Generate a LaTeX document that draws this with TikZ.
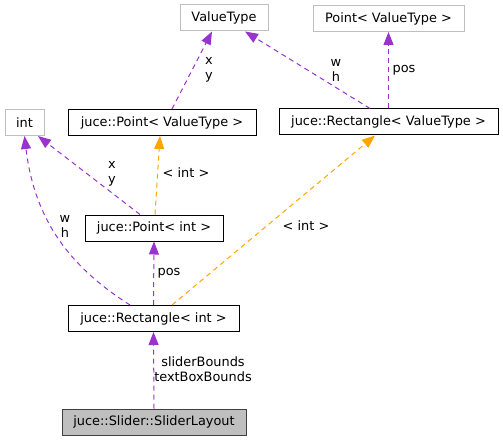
\documentclass[tikz,border=0pt]{standalone}
\usepackage{fontspec}
\setmainfont{DejaVu Sans}
\usetikzlibrary{arrows.meta}
\definecolor{edgepurple}{HTML}{9A32CD}
\definecolor{edgeorange}{HTML}{FFA500}
\definecolor{boxgray}{HTML}{BFBFBF}
\begin{document}
\begin{tikzpicture}[x=1pt,y=-1pt,
  font=\fontsize{12.9}{15}\selectfont,
  cls/.style={draw=black, line width=1pt, inner sep=0pt, minimum height=26pt, fill=white},
  ext/.style={draw=boxgray, line width=1pt, inner sep=0pt, minimum height=26pt, fill=white},
  cur/.style={draw=black!75, line width=1pt, inner sep=0pt, minimum height=26pt, fill=boxgray},
  edgeP/.style={draw=edgepurple, line width=1pt, dash pattern=on 5pt off 4pt,
    -{Triangle[length=13pt,width=10pt,fill=edgepurple]}},
  edgeO/.style={draw=edgeorange, line width=1pt, dash pattern=on 5pt off 4pt,
    -{Triangle[length=13pt,width=10pt,fill=edgeorange]}},
  lbl/.style={inner sep=0pt, align=center, text=black}
]
\useasboundingbox (0,0) rectangle (503,441);

\node[ext, minimum width=88pt]  (vt)  at (224,18)    {ValueType};
\node[ext, minimum width=151pt] (ptv) at (388.5,18.5) {Point< ValueType >};
\node[ext, minimum width=39pt]  (int) at (24.5,122.5) {int};
\node[cls, minimum width=188pt] (pvt) at (162,122.5) {juce::Point< ValueType >};
\node[cls, minimum width=219pt] (rvt) at (388.5,122) {juce::Rectangle< ValueType >};
\node[cls, minimum width=138pt] (pi)  at (154,228)   {juce::Point< int >};
\node[cls, minimum width=171pt] (ri)  at (153.5,318.5) {juce::Rectangle< int >};
\node[cur, minimum width=184pt] (sl)  at (154,422)   {juce::Slider::SliderLayout};

% edges
\draw[edgeP] ([xshift=10pt]pvt.north) -- ([xshift=-12pt]vt.south);
\draw[edgeP] ([xshift=-18.5pt]rvt.north) -- ([xshift=21pt]vt.south);
\draw[edgeP] (rvt.north) -- (ptv.south);
\draw[edgeP] ([xshift=-14pt]pi.north) -- ([xshift=13.5pt]int.south);
\draw[edgeO] ([xshift=1pt]pi.north) -- ([xshift=-2pt]pvt.south);
\draw[edgeP] ([xshift=-23.5pt]ri.north) .. controls (75,270) and (35,225) .. (int.south);
\draw[edgeP] (ri.north) -- (pi.south);
\draw[edgeO] ([xshift=18.5pt]ri.north) -- ([xshift=-13.5pt]rvt.south);
\draw[edgeP] (sl.north) -- (ri.south);

% labels
\node[lbl] (l1) at (209,70) {x\\y};
\node[lbl] (l2) at (336,70) {w\\h};
\node[lbl] (l3) at (404,70) {pos};
\node[lbl] (l4) at (112,174) {x\\y};
\node[lbl] (l5) at (186,173) {< int >};
\node[lbl] (l6) at (65,226) {w\\h};
\node[lbl] (l7) at (169,273) {pos};
\node[lbl] (l8) at (306,226) {< int >};
\node[lbl] (l9) at (203,369) {sliderBounds\\textBoxBounds};
\end{tikzpicture}
\end{document}
